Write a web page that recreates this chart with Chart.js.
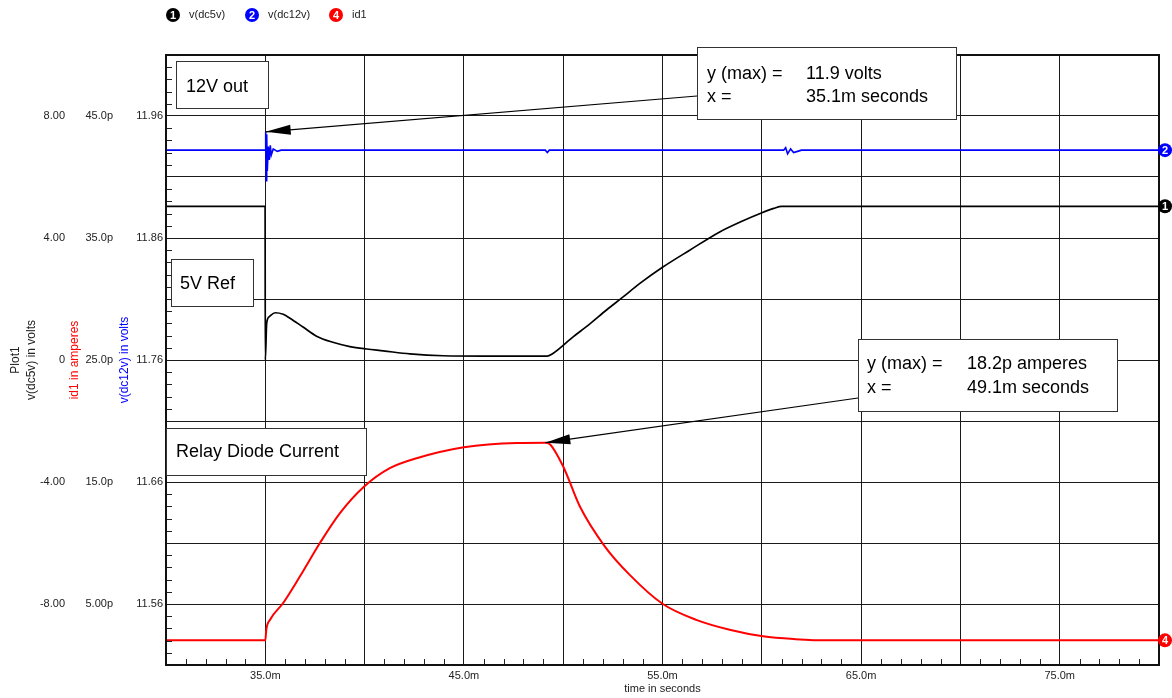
<!DOCTYPE html>
<html>
<head>
<meta charset="utf-8">
<script src="https://cdn.jsdelivr.net/npm/chart.js@4/dist/chart.umd.min.js"></script>
<style>
  body { margin: 0; background: #fff; }
  #wrap { width: 1172px; height: 698px; position: relative; }
</style>
</head>
<body>
<div id="wrap"><canvas id="grafico"></canvas></div>
<script>
// Tiempo en ms para cada traza
const T_DC5V = [30, 34.99, 35.0, 35.07, 35.2, 35.5, 35.9, 36.24, 36.9, 37.58, 38.4, 39.26, 40.1, 40.94, 42.28, 43.96, 46.0, 49.2, 49.4, 50.5, 51.3, 52.18, 53.0, 53.86, 55.0, 56.37, 57.88, 59.0, 59.98, 60.6, 61.0, 80];
const V_DC5V = [5.04, 5.04, 0.0, 1.21, 1.42, 1.55, 1.5, 1.37, 1.08, 0.78, 0.58, 0.44, 0.36, 0.30, 0.20, 0.14, 0.13, 0.13, 0.18, 0.76, 1.16, 1.64, 2.06, 2.51, 3.04, 3.6, 4.2, 4.55, 4.82, 4.97, 5.04, 5.04];

const T_DC12V = [30, 35.0, 35.02, 35.04, 35.07, 35.1, 35.15, 35.2, 35.25, 35.3, 35.4, 35.6, 35.8, 49.1, 49.2, 49.3, 61.1, 61.2, 61.3, 61.45, 61.6, 61.8, 62.0, 80];
const V_DC12V = [11.932, 11.932, 11.947, 11.907, 11.945, 11.915, 11.935, 11.924, 11.936, 11.928, 11.933, 11.931, 11.932, 11.932, 11.930, 11.932, 11.932, 11.934, 11.929, 11.933, 11.930, 11.931, 11.932, 11.932];

const T_ID1 = [30, 35.0, 35.05, 35.24, 35.9, 36.74, 37.75, 38.76, 39.98, 41.27, 42.62, 45.0, 47.68, 49.1, 49.33, 50.0, 50.84, 52.1, 53.35, 55.0, 56.7, 58.38, 60.06, 61.7, 63.4, 80];
const I_ID1 = [2.02, 2.02, 2.9, 3.71, 5.08, 7.25, 10.0, 12.45, 14.63, 16.13, 16.95, 17.85, 18.2, 18.22, 18.1, 16.27, 12.99, 9.71, 7.39, 5.02, 3.7, 2.89, 2.35, 2.12, 2.02, 2.02]; // pA

// Etiquetas de los ejes
const X_LABELS = [35, 45, 55, 65, 75];
const V_LABELS = [-8, -4, 0, 4, 8];
const ID_LABELS = [5, 15, 25, 35, 45];
const V12_LABELS = [11.56, 11.66, 11.76, 11.86, 11.96];

const NOMBRES = ["v(dc5v)", "v(dc12v)", "id1"];
const NUMEROS = ["1", "2", "4"];
const COLORES = ["#000000", "#0000ff", "#ff0000"];

Chart.defaults.font.family = '"Liberation Sans", Arial, sans-serif';

function puntos(ts, vs) {
  return ts.map(function(t, i) { return { x: t, y: vs[i] }; });
}

function caja(ctx, x, y, w, h) {
  ctx.fillStyle = "#fff";
  ctx.fillRect(x, y, w, h);
  ctx.strokeStyle = "#333";
  ctx.lineWidth = 1;
  ctx.strokeRect(x + 0.5, y + 0.5, w, h);
}

function flecha(ctx, x0, y0, x1, y1) {
  var ang = Math.atan2(y1 - y0, x1 - x0);
  var largo = 25, ancho = 5;
  ctx.strokeStyle = "#000";
  ctx.lineWidth = 1.2;
  ctx.beginPath();
  ctx.moveTo(x0, y0);
  ctx.lineTo(x1, y1);
  ctx.stroke();
  ctx.fillStyle = "#000";
  ctx.beginPath();
  ctx.moveTo(x1, y1);
  ctx.lineTo(x1 - largo * Math.cos(ang) + ancho * Math.sin(ang), y1 - largo * Math.sin(ang) - ancho * Math.cos(ang));
  ctx.lineTo(x1 - largo * Math.cos(ang) - ancho * Math.sin(ang), y1 - largo * Math.sin(ang) + ancho * Math.cos(ang));
  ctx.closePath();
  ctx.fill();
}

function marca(ctx, x, y, color, num) {
  ctx.fillStyle = color;
  ctx.beginPath();
  ctx.arc(x, y, 7, 0, Math.PI * 2);
  ctx.fill();
  ctx.fillStyle = "#fff";
  ctx.font = "bold 11px 'Liberation Sans', Arial";
  ctx.textAlign = "center";
  ctx.textBaseline = "middle";
  ctx.fillText(num, x, y + 0.5);
}

const extras = {
  id: "extras",
  afterDraw(chart) {
    const ctx = chart.ctx;
    const a = chart.chartArea;
    const sx = chart.scales.x, sy = chart.scales.y;
    ctx.save();

    // ticks menores
    ctx.strokeStyle = "#222";
    ctx.lineWidth = 1;
    ctx.beginPath();
    for (let t = 31; t < 80; t++) {
      if (t % 5 === 0) continue;
      const px = Math.round(sx.getPixelForValue(t)) + 0.5;
      ctx.moveTo(px, a.bottom);
      ctx.lineTo(px, a.bottom - 6);
    }
    for (let k = -24; k <= 24; k++) {
      if (k % 5 === 0) continue;
      const py = Math.round(sy.getPixelForValue(k * 0.4)) + 0.5;
      ctx.moveTo(a.left, py);
      ctx.lineTo(a.left + 6, py);
    }
    ctx.stroke();

    // marco
    ctx.strokeStyle = "#111";
    ctx.lineWidth = 2;
    ctx.strokeRect(a.left, a.top, a.right - a.left, a.bottom - a.top);

    // marcas al final de cada traza
    chart.data.datasets.forEach(function(ds, i) {
      const ultimo = ds.data[ds.data.length - 1];
      const py = chart.scales[ds.yAxisID].getPixelForValue(ultimo.y);
      marca(ctx, a.right + 6, py, COLORES[i], NUMEROS[i]);
    });

    // leyenda
    const posLeyenda = [173, 252, 336];
    NOMBRES.forEach(function(n, i) {
      marca(ctx, posLeyenda[i], 15, COLORES[i], NUMEROS[i]);
      ctx.fillStyle = "#222";
      ctx.font = "11px 'Liberation Sans', Arial";
      ctx.textAlign = "left";
      ctx.fillText(n, posLeyenda[i] + 16, 15);
    });

    // cajas de texto
    ctx.font = "18px 'Liberation Sans', Arial";
    ctx.textBaseline = "alphabetic";
    caja(ctx, 176, 61, 92, 47);
    caja(ctx, 171, 259, 82, 47);
    caja(ctx, 166, 428, 200, 47);
    ctx.fillStyle = "#000";
    ctx.fillText("12V out", 186, 92);
    ctx.fillText("5V Ref", 180, 289);
    ctx.fillText("Relay Diode Current", 176, 457);

    // maximos
    let i12 = 0;
    V_DC12V.forEach(function(v, i) { if (v > V_DC12V[i12]) i12 = i; });
    let iId = 0;
    I_ID1.forEach(function(v, i) { if (v > I_ID1[iId]) iId = i; });
    flecha(ctx, 697, 96, sx.getPixelForValue(T_DC12V[i12]), chart.scales.y12.getPixelForValue(V_DC12V[i12]));
    flecha(ctx, 858, 398, sx.getPixelForValue(T_ID1[iId]), chart.scales.yId.getPixelForValue(I_ID1[iId]));

    caja(ctx, 697, 47, 259, 72);
    caja(ctx, 858, 339, 259, 72);
    ctx.fillStyle = "#000";
    ctx.font = "18px 'Liberation Sans', Arial";
    ctx.fillText("y (max) =", 707, 79);
    ctx.fillText("11.9 volts", 806, 79);
    ctx.fillText("x =", 707, 102);
    ctx.fillText("35.1m seconds", 806, 102);
    ctx.fillText("y (max) =", 867, 369);
    ctx.fillText("18.2p amperes", 967, 369);
    ctx.fillText("x =", 867, 393);
    ctx.fillText("49.1m seconds", 967, 393);

    ctx.restore();
  }
};

new Chart(document.getElementById("grafico"), {
  type: "line",
  data: {
    datasets: [
      { label: NOMBRES[0], data: puntos(T_DC5V, V_DC5V), yAxisID: "y", borderColor: COLORES[0], borderWidth: 1.7, pointRadius: 0, cubicInterpolationMode: "monotone" },
      { label: NOMBRES[1], data: puntos(T_DC12V, V_DC12V), yAxisID: "y12", borderColor: COLORES[1], borderWidth: 1.6, pointRadius: 0, tension: 0 },
      { label: NOMBRES[2], data: puntos(T_ID1, I_ID1), yAxisID: "yId", borderColor: COLORES[2], borderWidth: 2, pointRadius: 0, cubicInterpolationMode: "monotone" }
    ]
  },
  options: {
    responsive: true,
    maintainAspectRatio: false,
    animation: false,
    layout: { padding: { top: 55, right: 13, left: 0, bottom: 0 } },
    plugins: { legend: { display: false }, tooltip: { enabled: false } },
    scales: {
      x: {
        type: "linear", min: 30, max: 80,
        ticks: {
          stepSize: 5, autoSkip: false, maxRotation: 0, padding: 4, color: "#222", font: { size: 11 },
          callback: function(v) { return X_LABELS.includes(v) ? v.toFixed(1) + "m" : ""; }
        },
        grid: { color: "#1a1a1a", lineWidth: 1, drawTicks: false },
        border: { display: false },
        title: { display: true, text: "time in seconds", color: "#222", font: { size: 11 }, padding: { top: 0, bottom: 2 } },
        afterFit: function(s) { s.height = 33; }
      },
      y: {
        type: "linear", position: "left", weight: 3, min: -10, max: 10,
        ticks: {
          stepSize: 2, padding: 3, color: "#222", font: { size: 11 },
          callback: function(v) { return V_LABELS.includes(v) ? (v === 0 ? "0" : v.toFixed(2)) : ""; }
        },
        grid: { color: "#1a1a1a", lineWidth: 1, drawTicks: false },
        border: { display: false },
        title: { display: true, text: ["Plot1", "v(dc5v) in volts"], color: "#222", font: { size: 12, lineHeight: 1.3333 }, padding: { top: 8, bottom: 0 } },
        afterFit: function(s) { s.width = 68; }
      },
      yId: {
        type: "linear", position: "left", weight: 2, min: 0, max: 50,
        afterBuildTicks: function(s) { s.ticks = ID_LABELS.map(function(v) { return { value: v }; }); },
        ticks: {
          padding: 3, color: "#222", font: { size: 11 },
          callback: function(v) { return (v < 10 ? v.toFixed(2) : v.toFixed(1)) + "p"; }
        },
        grid: { drawOnChartArea: false, drawTicks: false },
        border: { display: false },
        title: { display: true, text: "id1 in amperes", color: "#ff0000", font: { size: 12, lineHeight: 1.1667 }, padding: { top: 0, bottom: 0 } },
        afterFit: function(s) { s.width = 48; }
      },
      y12: {
        type: "linear", position: "left", weight: 1, min: 11.51, max: 12.01,
        afterBuildTicks: function(s) { s.ticks = V12_LABELS.map(function(v) { return { value: v }; }); },
        ticks: {
          padding: 3, color: "#222", font: { size: 11 },
          callback: function(v) { return v.toFixed(2); }
        },
        grid: { drawOnChartArea: false, drawTicks: false },
        border: { display: false },
        title: { display: true, text: "v(dc12v) in volts", color: "#0000ff", font: { size: 12, lineHeight: 1.1667 }, padding: { top: 2, bottom: 0 } },
        afterFit: function(s) { s.width = 50; }
      }
    }
  },
  plugins: [extras]
});
</script>
</body>
</html>
